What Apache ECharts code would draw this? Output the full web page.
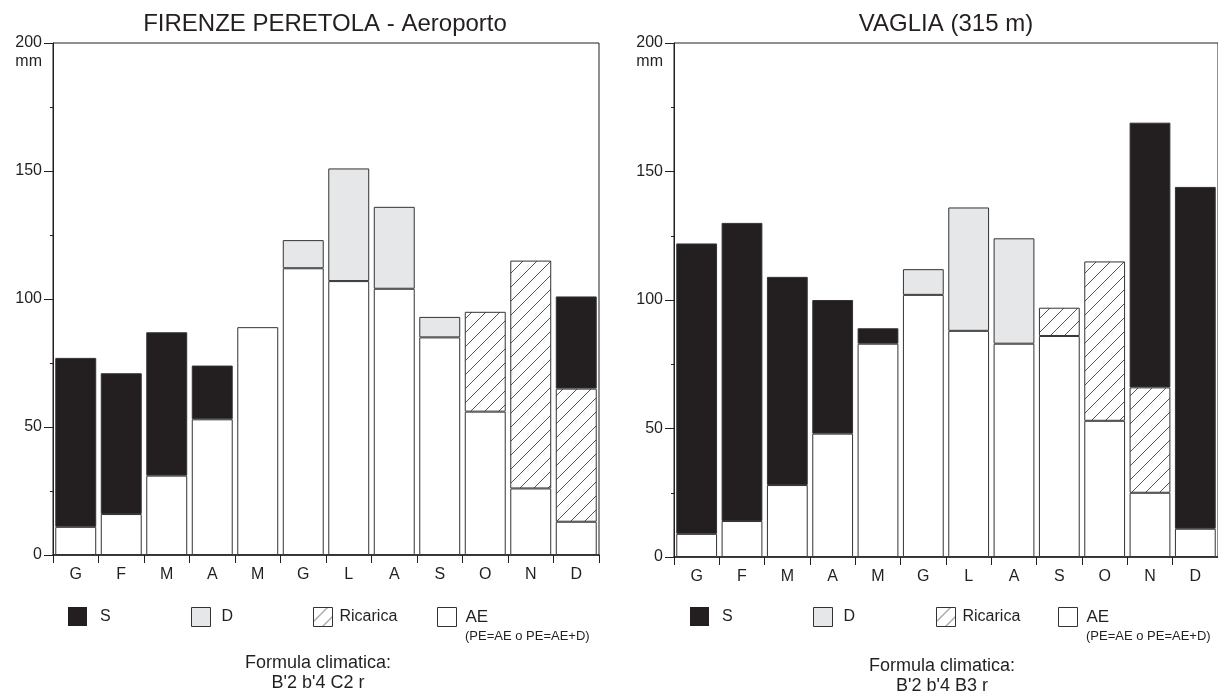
<!DOCTYPE html>
<html>
<head>
<meta charset="utf-8">
<script src="https://cdn.jsdelivr.net/npm/echarts@6/dist/echarts.min.js"></script>
<style>html,body{margin:0;padding:0;background:#fff}#c{width:1218px;height:692px}</style>
</head>
<body>
<div id="c"></div>
<script>
// ---- data ----
const months = ['G','F','M','A','M','G','L','A','S','O','N','D'];
const yTicks = [0, 50, 100, 150, 200];
const seriesNames = ['AE', 'D', 'Ricarica', 'S'];

// FIRENZE PERETOLA - Aeroporto (mm)
const firenzeAE       = [11, 16, 31, 53, 89, 112, 107, 104, 85, 56, 26, 13];
const firenzeD        = ['-', '-', '-', '-', '-', 11, 44, 32, 8, '-', '-', '-'];
const firenzeRicarica = ['-', '-', '-', '-', '-', '-', '-', '-', '-', 39, 89, 52];
const firenzeS        = [66, 55, 56, 21, '-', '-', '-', '-', '-', '-', '-', 36];

// VAGLIA (315 m) (mm)
const vagliaAE       = [9, 14, 28, 48, 83, 102, 88, 83, 86, 53, 25, 11];
const vagliaD        = ['-', '-', '-', '-', '-', 10, 48, 41, '-', '-', '-', '-'];
const vagliaRicarica = ['-', '-', '-', '-', '-', '-', '-', '-', 11, 62, 41, '-'];
const vagliaS        = [113, 116, 81, 52, 6, '-', '-', '-', '-', '-', 103, 133];

const titles = ['FIRENZE PERETOLA - Aeroporto', 'VAGLIA (315 m)'];
const formulaHead = 'Formula climatica:';
const formulaCodes = ['B\'2 b\'4 C2 r', 'B\'2 b\'4 B3 r'];
const aeNote = '(PE=AE o PE=AE+D)';

// ---- styles ----
const INK = '#231f20';
const FONT = '"Liberation Sans", Arial, sans-serif';

function hatch() {
  const s = 14;
  const cv = document.createElement('canvas');
  cv.width = s; cv.height = s;
  const ctx = cv.getContext('2d');
  ctx.fillStyle = '#fff';
  ctx.fillRect(0, 0, s, s);
  ctx.strokeStyle = '#2a2a2a';
  ctx.lineWidth = 0.8;
  ctx.beginPath();
  ctx.moveTo(0, s); ctx.lineTo(s, 0);
  ctx.moveTo(-2, 2); ctx.lineTo(2, -2);
  ctx.moveTo(s - 2, s + 2); ctx.lineTo(s + 2, s - 2);
  ctx.stroke();
  return { image: cv, repeat: 'repeat' };
}
const pattern = hatch();
const fills = { AE: '#ffffff', D: '#e6e7e8', Ricarica: pattern, S: INK };

const chart = echarts.init(document.getElementById('c'), null, { renderer: 'canvas' });

const grids = [
  { left: 53, top: 43, width: 546, height: 512 },
  { left: 674, top: 43, width: 545, height: 514 }
];

const dataSets = [
  { AE: firenzeAE, D: firenzeD, Ricarica: firenzeRicarica, S: firenzeS },
  { AE: vagliaAE, D: vagliaD, Ricarica: vagliaRicarica, S: vagliaS }
];

const series = [];
dataSets.forEach((ds, gi) => {
  seriesNames.forEach(name => {
    series.push({
      name: name,
      type: 'bar',
      xAxisIndex: gi, yAxisIndex: gi,
      stack: 'st' + gi,
      data: ds[name],
      barCategoryGap: '10%',
      itemStyle: { color: fills[name], borderColor: '#333', borderWidth: 1 },
      emphasis: { disabled: true },
      silent: true,
      animation: false
    });
  });
});

const legendX = [
  { S: 68, D: 191, Ricarica: 313, AE: 437 },
  { S: 690, D: 813, Ricarica: 936, AE: 1058 }
];
const textPad = { S: 8, D: 6, Ricarica: 2, AE: 4 };
const legends = [];
legendX.forEach((pos, gi) => {
  ['S', 'D', 'Ricarica', 'AE'].forEach(name => {
    legends.push({
      left: pos[name], top: 607,
      data: [{ name: name }],
      selectedMode: false,
      icon: 'rect',
      itemWidth: 19, itemHeight: 19,
      padding: 0,
      itemStyle: { borderColor: '#333', borderWidth: name === 'S' ? 0 : 1 },
      textStyle: { fontFamily: FONT, fontSize: name === 'AE' ? 17 : 16, color: INK,
        padding: [name === 'D' ? -4 : (name === 'AE' ? -3 : 0), 0, 0, textPad[name]] }
    });
  });
});

const centers = [325, 946];
const formulaX = [318, 942];
const formulaY = [663, 666];
const graphics = [];
centers.forEach((cx, gi) => {
  graphics.push({ type: 'text', x: cx, y: 24, style: { text: titles[gi], font: '24px ' + FONT, fill: INK, align: 'center', verticalAlign: 'middle', textAlign: 'center', textVerticalAlign: 'middle' } });
  graphics.push({ type: 'text', x: grids[gi].left - 11, y: 62, style: { text: 'mm', font: '16px ' + FONT, fill: INK, align: 'right', verticalAlign: 'middle', textAlign: 'right', textVerticalAlign: 'middle' } });
  graphics.push({ type: 'text', x: formulaX[gi], y: formulaY[gi], style: { text: formulaHead, font: '18px ' + FONT, fill: INK, align: 'center', verticalAlign: 'middle', textAlign: 'center', textVerticalAlign: 'middle' } });
  graphics.push({ type: 'text', x: formulaX[gi], y: formulaY[gi] + 20, style: { text: formulaCodes[gi], font: '18px ' + FONT, fill: INK, align: 'center', verticalAlign: 'middle', textAlign: 'center', textVerticalAlign: 'middle' } });
  graphics.push({ type: 'text', x: legendX[gi].AE + 28, y: 636, style: { text: aeNote, font: '13px ' + FONT, fill: INK, align: 'left', verticalAlign: 'middle', textAlign: 'left', textVerticalAlign: 'middle' } });
});

chart.setOption({
  animation: false,
  backgroundColor: '#fff',
  grid: grids.map(g => Object.assign({ show: true, borderColor: INK, borderWidth: 1, backgroundColor: 'transparent' }, g)),
  xAxis: [0, 1].map(i => ({
    type: 'category', gridIndex: i, data: months,
    axisLine: { lineStyle: { color: INK, width: 1.5 } },
    axisTick: { show: true, length: 8, lineStyle: { color: INK } },
    axisLabel: { color: INK, fontFamily: FONT, fontSize: 16, margin: 12 }
  })),
  yAxis: [0, 1].map(i => ({
    type: 'value', gridIndex: i, min: yTicks[0], max: yTicks[yTicks.length - 1], interval: 50,
    axisLine: { show: true, lineStyle: { color: INK, width: 1 } },
    axisTick: { show: true, length: 9, lineStyle: { color: INK } },
    minorTick: { show: true, splitNumber: 2, length: 3, lineStyle: { color: INK } },
    splitLine: { show: false },
    axisLabel: { color: INK, fontFamily: FONT, fontSize: 16, margin: 11 }
  })),
  legend: legends,
  series: series,
  graphic: graphics
});
</script>
</body>
</html>
